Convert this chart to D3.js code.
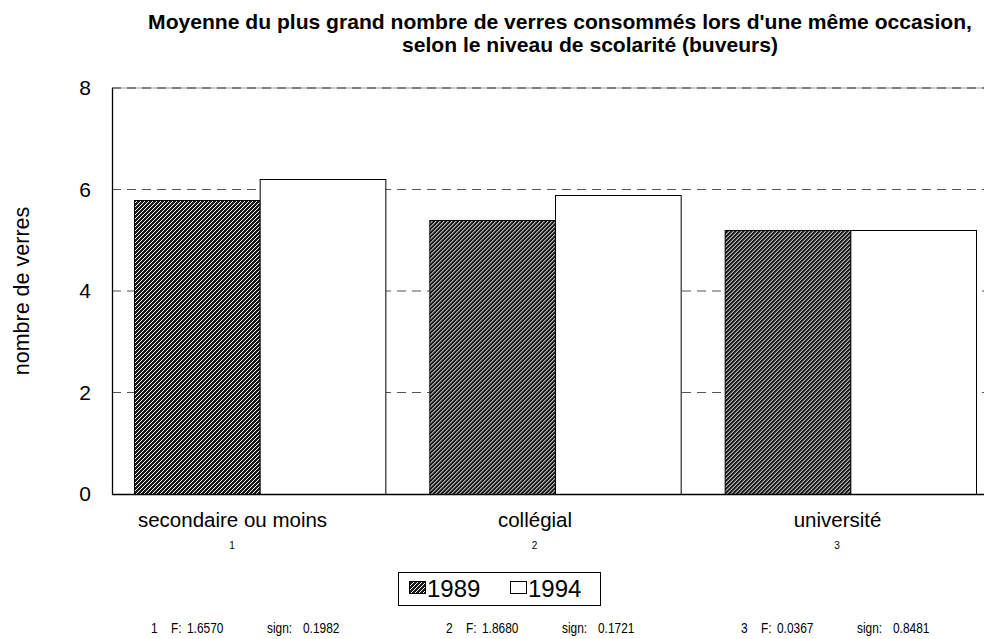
<!DOCTYPE html>
<html><head><meta charset="utf-8">
<script src="https://cdn.jsdelivr.net/npm/d3@7"></script>
<style>
html,body{margin:0;padding:0;background:#fff;}
svg{display:block;font-family:"Liberation Sans",Arial,Helvetica,sans-serif;}
</style></head>
<body>
<script>
const categories = ["secondaire ou moins", "collégial", "université"];
const categoryNumbers = ["1", "2", "3"];
const seriesNames = ["1989", "1994"];
const values1989 = [5.8, 5.4, 5.2];
const values1994 = [6.2, 5.9, 5.2];
const yTicks = [0, 2, 4, 6, 8];
const titleLines = ["Moyenne du plus grand nombre de verres consommés lors d'une même occasion,", "selon le niveau de scolarité (buveurs)"];
const yLabel = "nombre de verres";
const footerNumbers = ["1", "2", "3"];
const footerF = ["1.6570", "1.8680", "0.0367"];
const footerSign = ["0.1982", "0.1721", "0.8481"];

(function () {
const W = 986, H = 639;
const svg = d3.select("body").append("svg").attr("width", W).attr("height", H);

const defs = svg.append("defs");
const pat = defs.append("pattern").attr("id", "hatch").attr("patternUnits", "userSpaceOnUse")
  .attr("width", 4).attr("height", 4);
pat.append("rect").attr("width", 4).attr("height", 4).attr("fill", "#1a1a1a");
pat.append("path").attr("d", "M-1,1 L1,-1 M0,4 L4,0 M3,5 L5,3").attr("stroke", "#fff").attr("stroke-width", 1.0);

const pLeft = 112, pRight = 984, pTop = 88, pBottom = 494;
const y = d3.scaleLinear().domain([0, 8]).range([pBottom, pTop]);
const x0 = d3.scaleBand().domain(categories).range([pLeft, 998]).paddingInner(0.149).paddingOuter(0.0745);
const x1 = d3.scaleBand().domain(seriesNames).range([0, x0.bandwidth()]).padding(0);
const xLab = d3.scalePoint().domain(categories).range([232, 837]);

// grid
const grid = svg.append("g");
grid.selectAll("line.g").data(yTicks.filter(d => d > 0 && d < 8)).join("line")
  .attr("x1", pLeft).attr("x2", pRight).attr("y1", d => y(d)).attr("y2", d => y(d))
  .attr("stroke", "#555").attr("stroke-width", 1).attr("stroke-dasharray", "9,6");
grid.append("line").attr("x1", pLeft).attr("x2", pRight).attr("y1", y(8)).attr("y2", y(8))
  .attr("stroke", "#999").attr("stroke-width", 1);
grid.append("line").attr("x1", pLeft).attr("x2", pRight).attr("y1", y(8)).attr("y2", y(8))
  .attr("stroke", "#333").attr("stroke-width", 1.2).attr("stroke-dasharray", "9,6");

// bars
const data = categories.map((c, i) => ({c, vals: [{k: "1989", v: values1989[i]}, {k: "1994", v: values1994[i]}]}));
const groups = svg.append("g").selectAll("g").data(data).join("g")
  .attr("transform", d => `translate(${x0(d.c)},0)`);
groups.selectAll("rect").data(d => d.vals).join("rect")
  .attr("x", d => x1(d.k) + 0.5).attr("width", x1.bandwidth())
  .attr("y", d => Math.round(y(d.v)) + 0.5).attr("height", d => pBottom - Math.round(y(d.v)))
  .attr("fill", d => d.k === "1989" ? "url(#hatch)" : "#fff")
  .attr("stroke", "#000").attr("stroke-width", 1);

// axes lines
svg.append("line").attr("x1", pLeft).attr("x2", pRight).attr("y1", pBottom + 0.5).attr("y2", pBottom + 0.5)
  .attr("stroke", "#000").attr("stroke-width", 1.3);
svg.append("line").attr("x1", pLeft + 0.5).attr("x2", pLeft + 0.5).attr("y1", pTop).attr("y2", pBottom + 1)
  .attr("stroke", "#000").attr("stroke-width", 1.3);

// y ticks via axis
const yAxis = svg.append("g").attr("transform", `translate(${pLeft - 21},0)`)
  .call(d3.axisLeft(y).tickValues(yTicks).tickSize(0).tickPadding(0).tickFormat(d3.format("d")));
yAxis.select(".domain").remove();
yAxis.selectAll("text").attr("font-size", 21).attr("font-family", "Liberation Sans, Arial, sans-serif").attr("fill", "#000");

// y label
svg.append("text").attr("transform", `translate(29,${(pTop + pBottom) / 2}) rotate(-90)`)
  .attr("text-anchor", "middle").attr("font-size", 21.5).attr("fill", "#000").text(yLabel);

// category labels
const xAxis = svg.append("g").attr("transform", `translate(0,${pBottom})`)
  .call(d3.axisBottom(xLab).tickSize(0).tickPadding(0));
xAxis.select(".domain").remove();
xAxis.selectAll("text").attr("font-size", 20.5).attr("font-family", "Liberation Sans, Arial, sans-serif")
  .attr("fill", "#000").attr("dy", null).attr("y", 33);
svg.append("g").selectAll("text").data(categories).join("text")
  .attr("x", d => xLab(d)).attr("y", 549).attr("text-anchor", "middle")
  .attr("font-size", 10).attr("fill", "#000").text((d, i) => categoryNumbers[i]);

// title
const t1 = svg.append("text").attr("x", 560).attr("y", 29).attr("text-anchor", "middle")
  .attr("font-size", 16).attr("font-weight", "bold").attr("fill", "#000").text(titleLines[0]);
const w16 = t1.node().getComputedTextLength();
const tfs = 16 * 824 / w16;
t1.attr("font-size", tfs);
svg.append("text").attr("x", 590).attr("y", 52).attr("text-anchor", "middle")
  .attr("font-size", tfs).attr("font-weight", "bold").attr("fill", "#000").text(titleLines[1]);

// legend
const lg = svg.append("g");
lg.append("rect").attr("x", 398.5).attr("y", 572.5).attr("width", 202).attr("height", 33)
  .attr("fill", "#fff").attr("stroke", "#000").attr("stroke-width", 1);
const lx = [409, 510];
seriesNames.forEach((s, i) => {
  lg.append("rect").attr("x", lx[i] + 0.5).attr("y", 581.5).attr("width", 16).attr("height", 12)
    .attr("fill", i === 0 ? "url(#hatch)" : "#fff").attr("stroke", "#000").attr("stroke-width", 1);
  lg.append("text").attr("x", lx[i] + 18).attr("y", 597).attr("font-size", 24).attr("fill", "#000").text(s);
});

// footer
const fx = d3.scalePoint().domain(footerNumbers).range([151, 741]);
const sx = 0.85;
const foot = svg.append("g").attr("font-size", 14).attr("fill", "#000");
footerNumbers.forEach((n, i) => {
  const g = foot.append("g").attr("transform", `translate(${fx(n)},633) scale(${sx},1)`);
  g.append("text").attr("x", 0).text(n);
  g.append("text").attr("x", 20 / sx).text("F:");
  g.append("text").attr("x", 36 / sx).text(footerF[i]);
  g.append("text").attr("x", 116 / sx).text("sign:");
  g.append("text").attr("x", 152 / sx).text(footerSign[i]);
});
})();
</script>
</body></html>
